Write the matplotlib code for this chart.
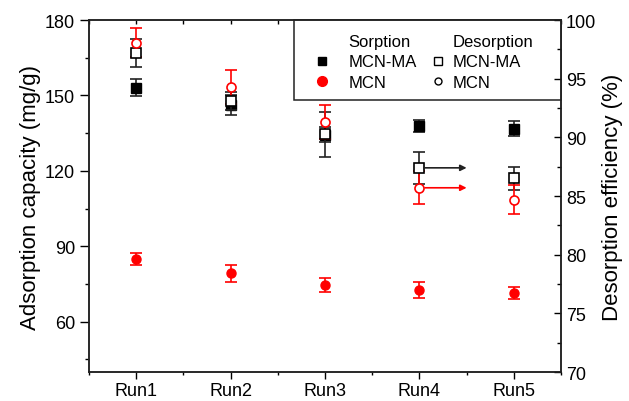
import numpy as np
import matplotlib
matplotlib.use("Agg")
import matplotlib.pyplot as plt
from matplotlib.lines import Line2D
from matplotlib.patches import Rectangle
from matplotlib.ticker import MultipleLocator

plt.rcParams['font.family'] = ['Liberation Sans', 'DejaVu Sans']

# --- dati ---
runs = ['Run1', 'Run2', 'Run3', 'Run4', 'Run5']
sorp_mcnma = [153.0, 146.1, 134.3, 137.8, 136.7]
sorp_mcnma_err = [3.4, 4.0, 3.0, 2.4, 3.0]
sorp_mcn = [84.8, 79.3, 74.6, 72.5, 71.3]
sorp_mcn_err = [2.4, 3.4, 2.6, 3.2, 2.4]
des_mcnma = [97.2, 93.1, 90.25, 87.4, 86.5]
des_mcnma_err = [1.2, 0.8, 1.9, 1.36, 1.0]
des_mcn = [98.05, 94.3, 91.3, 85.7, 84.7]
des_mcn_err = [1.23, 1.45, 1.45, 1.4, 1.27]

x = np.arange(1, len(runs) + 1)
RED = '#FF0000'

fig = plt.figure(figsize=(6.29, 4.02), dpi=100)
ax = fig.add_axes([89 / 629, 1 - 373 / 402, 472 / 629, 352 / 402])
ax2 = ax.twinx()

kw = dict(linestyle='none', capsize=4.5, elinewidth=1.2, capthick=1.2, markersize=6.5)
ax.errorbar(x, sorp_mcn, yerr=sorp_mcn_err, marker='o', color=RED, ecolor=RED, **kw)
ax.errorbar(x, sorp_mcnma, yerr=sorp_mcnma_err, marker='s', color='black', ecolor='#222222', **kw)

ax2.errorbar(x, des_mcnma, yerr=des_mcnma_err, marker='s', color='black', ecolor='#222222',
             markerfacecolor='white', markeredgewidth=1.2, **kw)
ax2.errorbar(x, des_mcn, yerr=des_mcn_err, marker='o', color=RED, ecolor=RED,
             markerfacecolor='white', markeredgewidth=1.2, **kw)

# frecce su Run4 verso destra
ax2.annotate('', xy=(4.5, des_mcnma[3]), xytext=(4.05, des_mcnma[3]),
             arrowprops=dict(arrowstyle='-|>', color='#222222', lw=1.2, mutation_scale=9,
                             shrinkA=0, shrinkB=0))
ax2.annotate('', xy=(4.5, des_mcn[3]), xytext=(4.06, des_mcn[3]),
             arrowprops=dict(arrowstyle='-|>', color=RED, lw=1.2, mutation_scale=9,
                             shrinkA=0, shrinkB=0))

# assi
ax.set_xlim(0.5, 5.5)
ax.set_ylim(40, 180)
ax2.set_ylim(70, 100)
ax.set_xticks(x)
ax.set_xticklabels(runs)
ax.xaxis.set_minor_locator(MultipleLocator(0.5))
ax.yaxis.set_major_locator(MultipleLocator(30))
ax.yaxis.set_minor_locator(MultipleLocator(15))
ax2.yaxis.set_major_locator(MultipleLocator(5))
ax2.yaxis.set_minor_locator(MultipleLocator(2.5))

ax.tick_params(axis='y', which='major', labelsize=13, length=6.5, width=1, direction='out')
ax.tick_params(axis='y', which='minor', length=3, width=1, direction='out')
ax.tick_params(axis='x', which='major', labelsize=13, length=5, width=1, direction='out', pad=2)
ax.tick_params(axis='x', which='minor', length=2.5, width=1, direction='out')
ax2.tick_params(axis='y', which='major', labelsize=13, length=5, width=1, direction='in')
ax2.tick_params(axis='y', which='minor', length=3, width=1, direction='in')

top = ax.secondary_xaxis('top')
top.set_xticks(x)
top.xaxis.set_minor_locator(MultipleLocator(0.5))
top.tick_params(which='both', direction='in', length=3, width=1, labeltop=False)

for a in (ax, ax2):
    for s in a.spines.values():
        s.set_linewidth(1.1)
        s.set_color('#222222')
top.spines['top'].set_visible(False)

ax.set_ylabel('Adsorption capacity (mg/g)', fontsize=16, labelpad=3)
ax2.set_ylabel('Desorption efficiency (%)', fontsize=16)

# legenda con riquadro
ax.add_patch(Rectangle((205 / 472, 1 - 80 / 352), 1 - 205 / 472, 80 / 352, transform=ax.transAxes,
                       facecolor='white', edgecolor='#222222', linewidth=1.1, zorder=5,
                       clip_on=False))
vuoto = Line2D([], [], linestyle='none')
h_sorp = [vuoto,
          Line2D([], [], linestyle='none', marker='s', color='black', markersize=6),
          Line2D([], [], linestyle='none', marker='o', color=RED, markersize=7)]
h_des = [vuoto,
         Line2D([], [], linestyle='none', marker='s', color='black', markerfacecolor='white',
                markersize=5.5, markeredgewidth=1),
         Line2D([], [], linestyle='none', marker='o', color='black', markerfacecolor='white',
                markersize=5, markeredgewidth=1)]
legkw = dict(frameon=False, fontsize=12, loc='upper left', borderaxespad=0, borderpad=0,
             handlelength=1.2, labelspacing=0.34)
leg1 = ax.legend(h_sorp, ['Sorption', 'MCN-MA', 'MCN'], bbox_to_anchor=((312 - 89) / 472, 0.961),
                 handletextpad=1.0, **legkw)
leg1.set_zorder(6)
ax.add_artist(leg1)
leg2 = ax.legend(h_des, ['Desorption', 'MCN-MA', 'MCN'], bbox_to_anchor=((428 - 89) / 472, 0.961),
                 handletextpad=0.3, **legkw)
leg2.set_zorder(6)

fig.savefig('out.png', dpi=100)
